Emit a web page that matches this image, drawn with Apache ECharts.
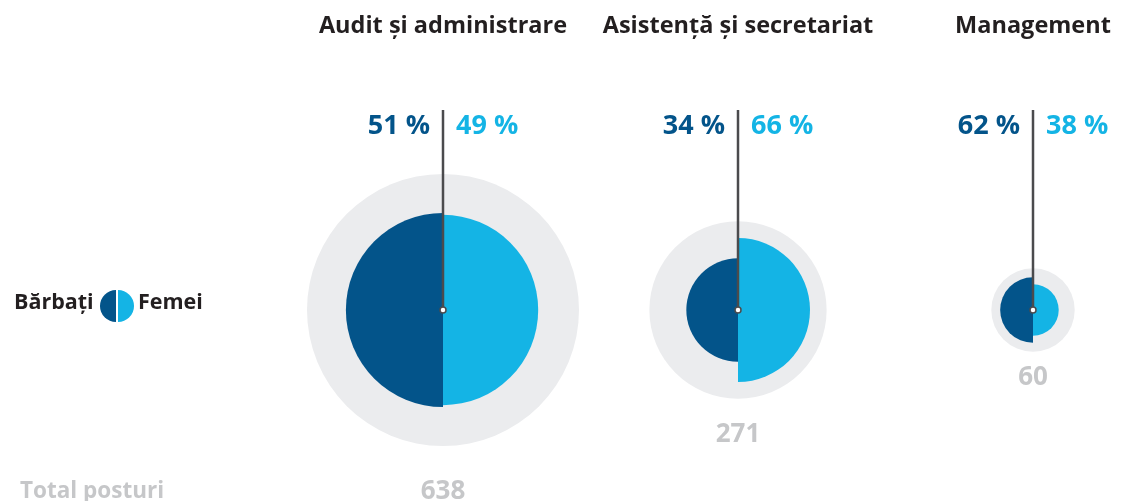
<!DOCTYPE html>
<html>
<head>
<meta charset="utf-8">
<script src="https://cdn.jsdelivr.net/npm/echarts@6/dist/echarts.min.js"></script>
<style>
  html, body { margin: 0; padding: 0; background: #fff; }
  #chart { width: 1121px; height: 501px; }
</style>
</head>
<body>
<div id="chart"></div>
<script>
// date
const categories = ['Audit și administrare', 'Asistență și secretariat', 'Management'];
const totals = [638, 271, 60];
const menShare = [51, 34, 62];
const womenShare = [49, 66, 38];

// culori
const DARK = '#03548a';
const LIGHT = '#14b4e5';
const GREY_BG = '#ebecee';
const GREY_TXT = '#c6c7c9';
const LINE = '#4b4b4d';
const INK = '#231f20';
const FONT = '"Open Sans"';

const MAX_R = 136; // raza cercului gri pentru cel mai mare total
const maxTotal = Math.max(...totals);

const seriesData = categories.map((c, i) => [i, 0, totals[i], menShare[i], womenShare[i]]);

function renderItem(params, api) {
    const p = api.coord([api.value(0), 0]);
    const cx = p[0], cy = p[1];
    const total = api.value(2);
    const men = api.value(3);
    const women = api.value(4);
    const R = MAX_R * Math.sqrt(total / maxTotal);
    const rMen = R * Math.sqrt(men / 100);
    const rWomen = R * Math.sqrt(women / 100);
    const top = cy - 200;
    return {
        type: 'group',
        children: [
            { type: 'circle', shape: { cx, cy, r: R }, style: { fill: GREY_BG } },
            {
                type: 'sector',
                shape: { cx, cy, r0: 0, r: rMen, startAngle: Math.PI / 2, endAngle: Math.PI * 1.5 },
                style: { fill: DARK }
            },
            {
                type: 'sector',
                shape: { cx, cy, r0: 0, r: rWomen, startAngle: -Math.PI / 2, endAngle: Math.PI / 2 },
                style: { fill: LIGHT }
            },
            {
                type: 'line',
                shape: { x1: cx, y1: top, x2: cx, y2: cy },
                style: { stroke: LINE, lineWidth: 2.5 }
            },
            { type: 'circle', shape: { cx, cy, r: 3 }, style: { fill: '#fff', stroke: LINE, lineWidth: 1.5 } },
            {
                type: 'text',
                style: {
                    x: cx - 13, y: top + 16, text: men + ' %',
                    fill: DARK, font: 'bold 27px ' + FONT, align: 'right', verticalAlign: 'middle'
                }
            },
            {
                type: 'text',
                style: {
                    x: cx + 13, y: top + 16, text: women + ' %',
                    fill: LIGHT, font: 'bold 27px ' + FONT, align: 'left', verticalAlign: 'middle'
                }
            },
            {
                type: 'text',
                style: {
                    x: cx, y: cy + R + 18 + 0.2 * R, text: String(total),
                    fill: GREY_TXT, font: 'bold 26px ' + FONT, align: 'center', verticalAlign: 'middle'
                }
            }
        ]
    };
}

const chart = echarts.init(document.getElementById('chart'));
chart.setOption({
    animation: false,
    grid: { left: 443, width: 590, top: 210, height: 200, outerBoundsMode: 'none', containLabel: false },
    xAxis: {
        type: 'category',
        data: categories,
        boundaryGap: false,
        position: 'top',
        axisLine: { show: false },
        axisTick: { show: false },
        splitLine: { show: false },
        axisLabel: {
            interval: 0,
            margin: 172,
            color: INK,
            fontFamily: FONT,
            fontWeight: 'bold',
            fontSize: 23.5
        }
    },
    yAxis: { type: 'value', min: -1, max: 1, show: false },
    graphic: [
        {
            type: 'text', left: 14, top: 292,
            style: { text: 'Bărbați', fill: INK, font: 'bold 21.5px ' + FONT }
        },
        {
            type: 'sector',
            shape: { cx: 116, cy: 306, r0: 0, r: 16, startAngle: Math.PI / 2, endAngle: Math.PI * 1.5 },
            style: { fill: DARK }
        },
        {
            type: 'sector',
            shape: { cx: 118, cy: 306, r0: 0, r: 16, startAngle: -Math.PI / 2, endAngle: Math.PI / 2 },
            style: { fill: LIGHT }
        },
        {
            type: 'text', left: 138, top: 292,
            style: { text: 'Femei', fill: INK, font: 'bold 21.5px ' + FONT }
        },
        {
            type: 'text', left: 20, top: 480,
            style: { text: 'Total posturi', fill: GREY_TXT, font: 'bold 22.5px ' + FONT }
        }
    ],
    series: [{
        type: 'custom',
        renderItem: renderItem,
        data: seriesData,
        silent: true
    }]
});
</script>
</body>
</html>
